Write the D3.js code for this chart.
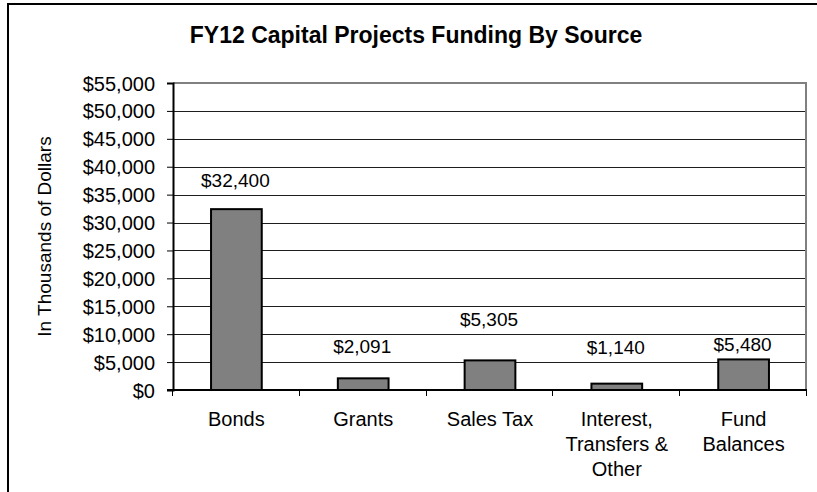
<!DOCTYPE html>
<html>
<head>
<meta charset="utf-8">
<script src="https://cdn.jsdelivr.net/npm/d3@7/dist/d3.min.js"></script>
<style>
  html, body { margin: 0; padding: 0; background: #fff; }
  svg { display: block; }
  text { font-family: "Liberation Sans", Arial, sans-serif; fill: #000; }
</style>
</head>
<body>
<script>
// Chart data
const title = "FY12 Capital Projects Funding By Source";
const yTitle = "In Thousands of Dollars";
const categories = ["Bonds", "Grants", "Sales Tax", "Interest, Transfers & Other", "Fund Balances"];
const categoryLines = [["Bonds"], ["Grants"], ["Sales Tax"], ["Interest,", "Transfers &", "Other"], ["Fund", "Balances"]];
const values = [32400, 2091, 5305, 1140, 5480];
const valueLabels = ["$32,400", "$2,091", "$5,305", "$1,140", "$5,480"];
const yTicks = [0, 5000, 10000, 15000, 20000, 25000, 30000, 35000, 40000, 45000, 50000, 55000];

const W = 817, H = 492;
const plot = { left: 173, right: 807, top: 83, bottom: 390 };
// distance from bar top to label baseline, per bar
const labelGap = [22, 25, 34, 30, 8];

const svg = d3.select("body").append("svg").attr("width", W).attr("height", H);

// chart frame
svg.append("rect")
  .attr("x", 8).attr("y", 4).attr("width", W + 20).attr("height", H + 20)
  .attr("fill", "#fff").attr("stroke", "#000").attr("stroke-width", 2);

const y = d3.scaleLinear().domain([0, 55000]).range([plot.bottom, plot.top]);
const x = d3.scaleBand().domain(categories).range([plot.left, plot.right]).padding(0);

// gridlines
svg.append("g").selectAll("line").data(yTicks.filter(t => t > 0 && t < 55000)).join("line")
  .attr("x1", plot.left).attr("x2", plot.right)
  .attr("y1", d => Math.round(y(d)) + 0.5).attr("y2", d => Math.round(y(d)) + 0.5)
  .attr("stroke", "#1e1e1e").attr("stroke-width", 1);

// plot area border (top / right)
svg.append("path")
  .attr("d", `M${plot.left},${plot.top}H${plot.right - 1}V${plot.bottom}`)
  .attr("fill", "none").attr("stroke", "#808080").attr("stroke-width", 2);

// y axis
const yAxis = d3.axisLeft(y).tickValues(yTicks).tickSize(6).tickPadding(12)
  .tickFormat(d => "$" + d3.format(",")(d));
const gy = svg.append("g").attr("transform", `translate(${plot.left},0)`).call(yAxis);
gy.select(".domain").attr("stroke", "#000").attr("stroke-width", 2);
gy.selectAll(".tick line").attr("stroke", "#000").attr("stroke-width", 1);
gy.selectAll(".tick text").attr("font-size", 20).attr("font-family", "Liberation Sans, Arial, sans-serif").attr("dy", "0.35em");

// x axis line + boundary ticks
const boundaries = categories.map(c => x(c)).concat([plot.right]);
svg.append("line")
  .attr("x1", plot.left - 6).attr("x2", plot.right)
  .attr("y1", plot.bottom).attr("y2", plot.bottom)
  .attr("stroke", "#000").attr("stroke-width", 2);
svg.append("g").selectAll("line").data(boundaries).join("line")
  .attr("x1", d => Math.round(d) - 0.5).attr("x2", d => Math.round(d) - 0.5)
  .attr("y1", plot.bottom).attr("y2", plot.bottom + 6)
  .attr("stroke", "#000").attr("stroke-width", 1);

// bars
const barW = x.bandwidth() * 0.4;
svg.append("g").selectAll("rect").data(values).join("rect")
  .attr("x", (d, i) => x(categories[i]) + (x.bandwidth() - barW) / 2)
  .attr("y", d => y(d))
  .attr("width", barW)
  .attr("height", d => plot.bottom - y(d))
  .attr("fill", "#808080").attr("stroke", "#000").attr("stroke-width", 2);

// value labels
svg.append("g").selectAll("text").data(values).join("text")
  .attr("x", (d, i) => x(categories[i]) + x.bandwidth() / 2 - 1)
  .attr("y", (d, i) => y(d) - labelGap[i])
  .attr("text-anchor", "middle").attr("font-size", 19)
  .text((d, i) => valueLabels[i]);

// category labels
const cl = svg.append("g").selectAll("text").data(categories).join("text")
  .attr("text-anchor", "middle").attr("font-size", 20)
  .attr("y", 426);
cl.each(function(c, i) {
  const t = d3.select(this);
  categoryLines[i].forEach((line, k) => {
    t.append("tspan").attr("x", x(c) + x.bandwidth() / 2).attr("y", 426 + k * 25).text(line);
  });
});

// titles
svg.append("text")
  .attr("x", 416).attr("y", 43)
  .attr("text-anchor", "middle").attr("font-size", 23).attr("font-weight", "bold")
  .text(title);

svg.append("text")
  .attr("transform", `translate(51,${(plot.top + plot.bottom) / 2}) rotate(-90)`)
  .attr("text-anchor", "middle").attr("font-size", 19)
  .text(yTitle);
</script>
</body>
</html>
